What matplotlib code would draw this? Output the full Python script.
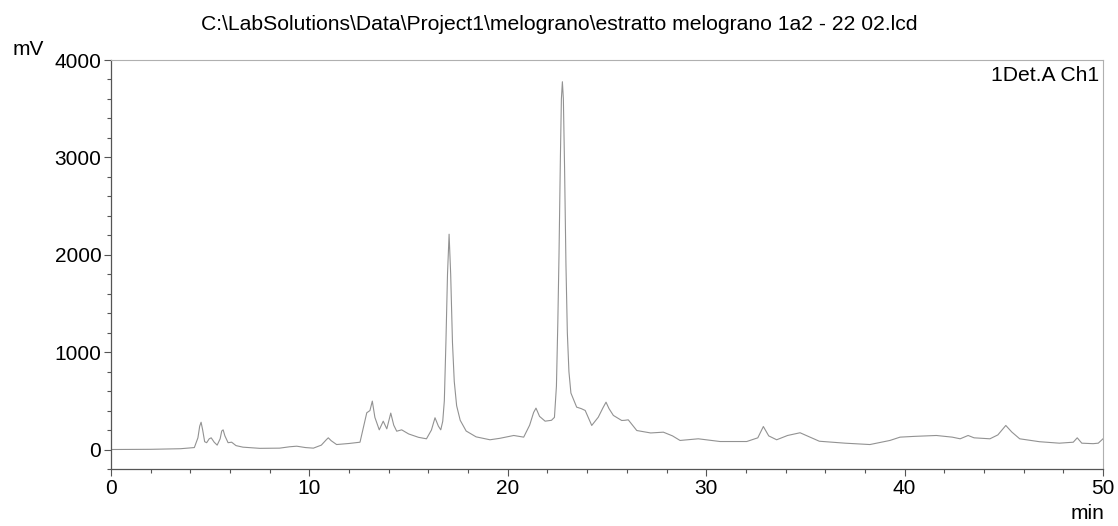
#!/usr/bin/env python3
# -*- coding: utf-8 -*-
import matplotlib
matplotlib.use("Agg")
import matplotlib.pyplot as plt
import matplotlib.ticker as ticker

# chromatogram trace (retention time in min, signal in mV)
time_min = [
    0.0, 2.0, 3.5, 4.2, 4.38, 4.47, 4.54, 4.62, 4.72, 4.82, 4.95, 5.05, 5.2,
    5.35, 5.5, 5.58, 5.65, 5.74, 5.9, 6.08, 6.3, 6.65, 7.5, 8.5, 9.0, 9.36,
    9.8, 10.2, 10.6, 10.85, 10.95, 11.1, 11.37, 12.0, 12.55, 12.75, 12.89,
    13.05, 13.17, 13.3, 13.52, 13.72, 13.9, 14.1, 14.25, 14.4, 14.65, 15.0,
    15.5, 15.9, 16.15, 16.33, 16.5, 16.62, 16.72, 16.8, 16.88, 16.96, 17.04,
    17.12, 17.21, 17.3, 17.42, 17.6, 17.9, 18.4, 19.1, 19.6, 20.3, 20.8,
    21.1, 21.3, 21.42, 21.6, 21.88, 22.2, 22.35, 22.45, 22.52, 22.58, 22.65,
    22.70, 22.75, 22.80, 22.86, 22.93, 23.0, 23.08, 23.18, 23.3, 23.47,
    23.7, 23.9, 24.23, 24.56, 24.8, 24.95, 25.1, 25.32, 25.74, 25.9, 26.07,
    26.5, 27.2, 27.84, 28.3, 28.68, 29.6, 30.7, 32.04, 32.6, 32.88, 33.15,
    33.55, 34.1, 34.73, 35.7, 37.0, 38.25, 39.26, 39.77, 40.5, 41.6, 42.4,
    42.8, 43.2, 43.5, 44.3, 44.7, 45.1, 45.4, 45.8, 46.8, 47.8, 48.5, 48.7,
    48.93, 49.5, 49.76, 50.0,
]
signal_mv = [
    0, 2, 8, 20, 120, 240, 280, 200, 80, 70, 110, 120, 75, 45, 110, 190, 202,
    140, 70, 75, 40, 24, 12, 14, 28, 34, 20, 14, 45, 100, 120, 90, 51, 62,
    75, 250, 377, 400, 497, 330, 202, 291, 212, 374, 250, 188, 202, 160, 125,
    110, 200, 326, 240, 202, 290, 500, 1100, 1800, 2211, 1800, 1100, 700,
    450, 300, 190, 130, 100, 115, 144, 127, 250, 380, 425, 340, 291, 300,
    330, 650, 1300, 2000, 3000, 3600, 3777, 3600, 2900, 1900, 1200, 800, 580,
    520, 435, 420, 401, 247, 332, 430, 486, 420, 350, 298, 300, 305, 195,
    170, 178, 140, 93, 110, 82, 82, 120, 236, 140, 100, 144, 172, 85, 65, 51,
    93, 127, 135, 144, 127, 110, 144, 120, 110, 150, 247, 180, 110, 80, 65,
    75, 120, 65, 60, 65, 110,
]

TITLE = r"C:\LabSolutions\Data\Project1\melograno\estratto melograno 1a2 - 22 02.lcd"
CHANNEL = "1Det.A Ch1"
FONT = "Liberation Sans"


def plot_chromatogram(fname):
    fig = plt.figure(figsize=(11.18, 5.26), dpi=100)
    ax = fig.add_axes([0.0993, 0.1084, 0.8873, 0.7775])
    ax.plot(time_min, signal_mv, color="#929292", lw=0.8)

    ax.set_xlim(0, 50)
    ax.set_ylim(-200, 4000)
    ax.xaxis.set_major_locator(ticker.MultipleLocator(10))
    ax.xaxis.set_minor_locator(ticker.MultipleLocator(2))
    ax.yaxis.set_major_locator(ticker.FixedLocator([0, 1000, 2000, 3000, 4000]))
    ax.yaxis.set_minor_locator(ticker.MultipleLocator(200))
    ax.tick_params(which="both", direction="out", color="#555555", width=0.8)
    ax.tick_params(which="major", length=5, labelsize=15, pad=2)
    ax.tick_params(which="minor", length=3)
    for lbl in ax.get_xticklabels() + ax.get_yticklabels():
        lbl.set_family(FONT)

    for side in ("top", "right"):
        ax.spines[side].set_color("#b0b0b0")
        ax.spines[side].set_linewidth(0.8)
    for side in ("left", "bottom"):
        ax.spines[side].set_color("#555555")
        ax.spines[side].set_linewidth(0.9)

    fig.text(0.5, 0.954, TITLE, ha="center", va="center", fontsize=15.2, family=FONT)
    fig.text(0.025, 0.905, "mV", ha="center", va="center", fontsize=15, family=FONT)
    fig.text(0.973, 0.006, "min", ha="center", va="bottom", fontsize=15, family=FONT)
    ax.text(0.996, 0.985, CHANNEL, transform=ax.transAxes, ha="right", va="top",
            fontsize=15.2, family=FONT)

    fig.savefig(fname, dpi=100)


if __name__ == "__main__":
    plot_chromatogram("out.png")
